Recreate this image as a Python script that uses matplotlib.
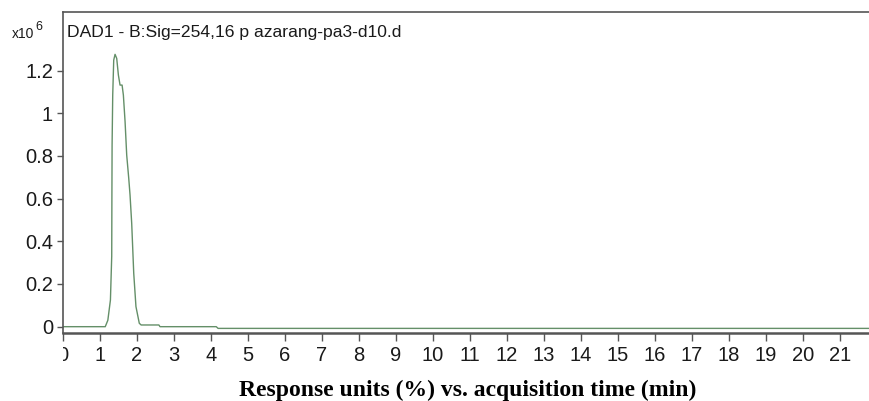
import matplotlib
matplotlib.use("Agg")
import matplotlib.pyplot as plt
from matplotlib import font_manager
from matplotlib.transforms import Bbox, TransformedBbox

# ---- data (time in min, response in x10^6) ----
time_min = [0.0, 1.15, 1.22, 1.29, 1.325, 1.33, 1.335, 1.352, 1.379, 1.415,
            1.46, 1.505, 1.55, 1.605, 1.64, 1.686, 1.73, 1.785, 1.82, 1.865,
            1.92, 1.98, 2.07, 2.12, 2.60, 2.63, 4.15, 4.20, 21.82]
signal = [0.0, 0.0, 0.03, 0.125, 0.33, 0.617, 0.85, 1.085, 1.249, 1.276,
          1.257, 1.179, 1.132, 1.132, 1.085, 0.96, 0.804, 0.695, 0.617, 0.484,
          0.25, 0.094, 0.016, 0.008, 0.008, 0.0, 0.0, -0.008, -0.008]
x_ticks = list(range(0, 22))
y_ticks = [0, 0.2, 0.4, 0.6, 0.8, 1.0, 1.2]
y_tick_labels = ["0", "0.2", "0.4", "0.6", "0.8", "1", "1.2"]
trace_label = "DAD1 - B:Sig=254,16 p azarang-pa3-d10.d"
x_label = "Response units (%) vs. acquisition time (min)"

names = {f.name for f in font_manager.fontManager.ttflist}
sans = "Liberation Sans Narrow" if "Liberation Sans Narrow" in names else "Liberation Sans"

fig = plt.figure(figsize=(8.7, 4.01), dpi=100)
ax = fig.add_axes([62.7 / 870, 1 - 333.3 / 401, 1 - 62.7 / 870, (333.3 - 12.3) / 401])

ax.plot(time_min, signal, color="#648f68", lw=1.0)

ax.set_xlim(0, 21.82)
ax.set_ylim(-0.031, 1.473)
ax.set_xticks(x_ticks)
ax.set_xticklabels([str(t) for t in x_ticks])
ax.set_yticks(y_ticks)
ax.set_yticklabels(y_tick_labels)

for s in ["left", "top", "bottom"]:
    ax.spines[s].set_color("#555555")
ax.spines["left"].set_linewidth(1.2)
ax.spines["top"].set_linewidth(1.2)
ax.spines["bottom"].set_linewidth(1.8)
ax.spines["right"].set_visible(False)

ax.tick_params(axis="both", direction="out", color="#555555", width=1.0,
               labelsize=14.5, labelcolor="#1a1a1a")
ax.tick_params(axis="x", length=6, pad=3)
ax.tick_params(axis="y", length=4, pad=3)
for lab in ax.get_xticklabels() + ax.get_yticklabels():
    lab.set_fontfamily(sans)

# clip the "0" x tick label at the left spine, as in the reference
clipbox = TransformedBbox(Bbox([[62.7 / 870, 0], [1, 1]]), fig.transFigure)
for lab in ax.get_xticklabels():
    lab.set_clip_box(clipbox)
    lab.set_clip_on(True)

fig.text(66.7 / 870, 1 - 36.7 / 401, trace_label, ha="left", va="baseline",
         fontsize=12.6, family=sans, color="#1a1a1a")

fig.text(11.5 / 870, 1 - 38.5 / 401, "x10", ha="left", va="baseline",
         fontsize=10, family=sans, color="#1a1a1a")
fig.text(35.5 / 870, 1 - 29.5 / 401, "6", ha="left", va="baseline",
         fontsize=9, family=sans, color="#1a1a1a")

fig.text(467.8 / 870, 1 - 396.0 / 401, x_label, ha="center", va="baseline",
         fontsize=17, fontweight="bold", family="Liberation Serif", color="black")

fig.savefig("out.png", dpi=100)
